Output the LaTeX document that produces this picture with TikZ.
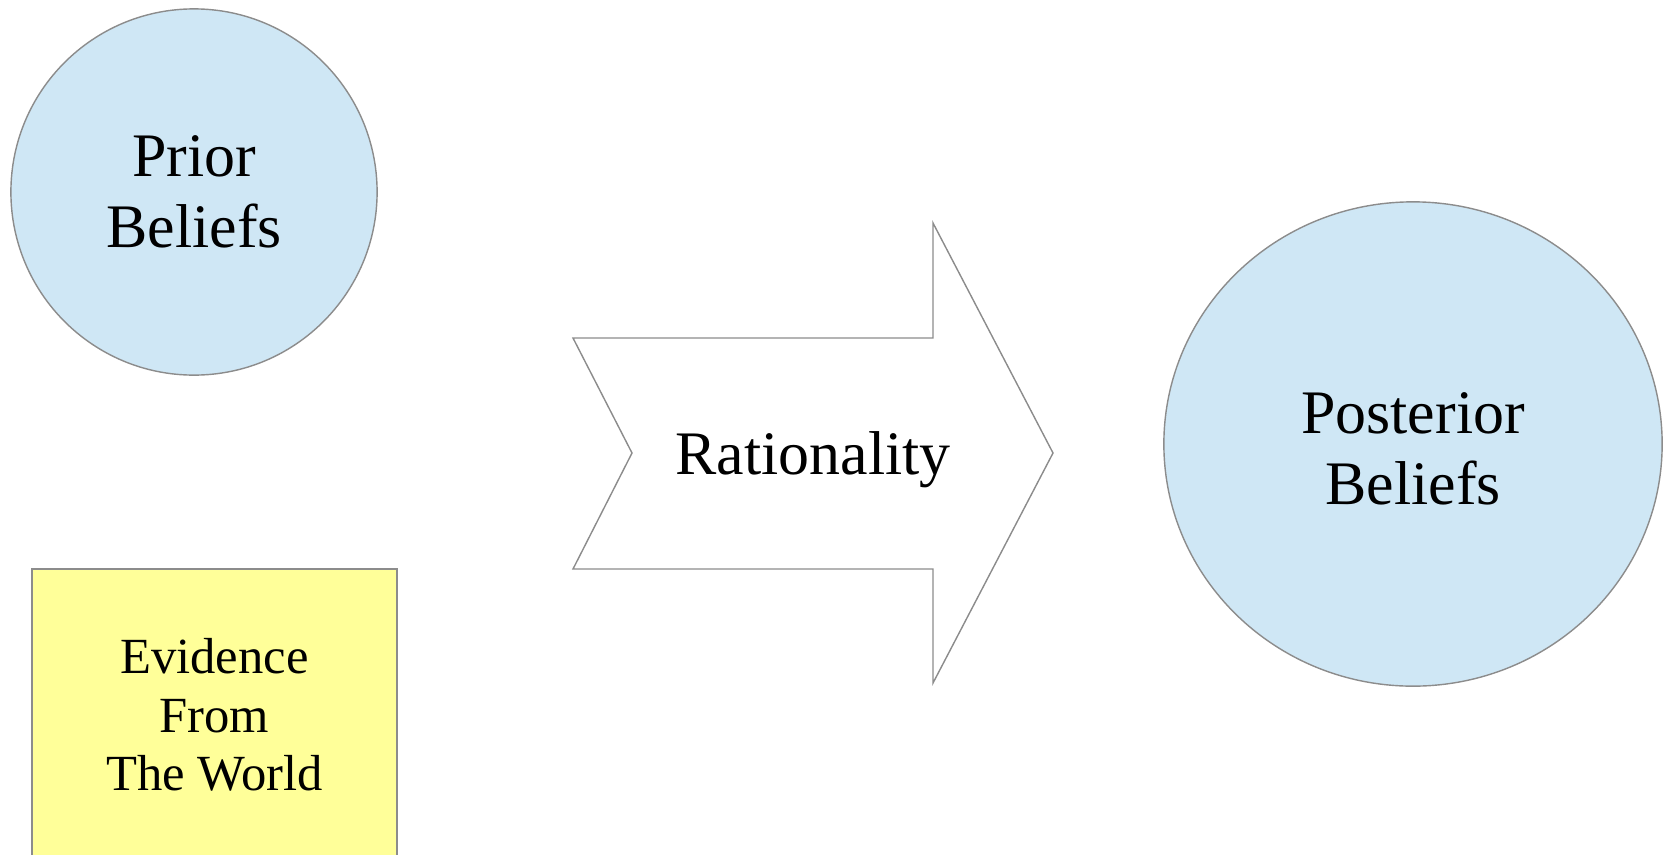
\documentclass[tikz,border=0pt]{standalone}
\usepackage{fontspec}
\setmainfont{Liberation Serif}
\usetikzlibrary{shapes.geometric}
\definecolor{beliefblue}{HTML}{CFE7F5}
\definecolor{worldyellow}{HTML}{FFFF99}
\definecolor{rimgray}{HTML}{8C8C8C}
\tikzset{
  belief/.style={ellipse,draw=rimgray,fill=beliefblue,line width=0.4pt,inner sep=0pt,align=center,font=\fontsize{17.6}{20.3}\selectfont},
  world/.style={rectangle,draw=rimgray,fill=worldyellow,line width=0.4pt,inner sep=0pt,align=center,font=\fontsize{14.4}{16.6}\selectfont},
  ratarrow/.style={draw=rimgray,fill=white,line width=0.4pt},
  lbl/.style={inner sep=0pt,align=center,font=\fontsize{17.6}{20.3}\selectfont}
}
\begin{document}
\begin{tikzpicture}[x=0.01cm,y=-0.01cm]
\useasboundingbox (0,0) rectangle (1664,854);
\node[belief,minimum width=3.66cm,minimum height=3.66cm] (prior) at (194,192) {Prior\\Beliefs};
\node[world,minimum width=3.65cm,minimum height=2.92cm] (evid) at (214.5,715) {Evidence\\From\\The World};
\draw[ratarrow] (573,338) -- (933,338) -- (933,223) -- (1053,453) -- (933,683) -- (933,569) -- (573,569) -- (632,453) -- cycle;
\node[lbl] (rat) at (813,460) {Rationality};
\node[belief,minimum width=4.98cm,minimum height=4.84cm] (post) at (1413,444) {};
\node[lbl] (postlbl) at (1413,449) {Posterior\\Beliefs};
\end{tikzpicture}
\end{document}
